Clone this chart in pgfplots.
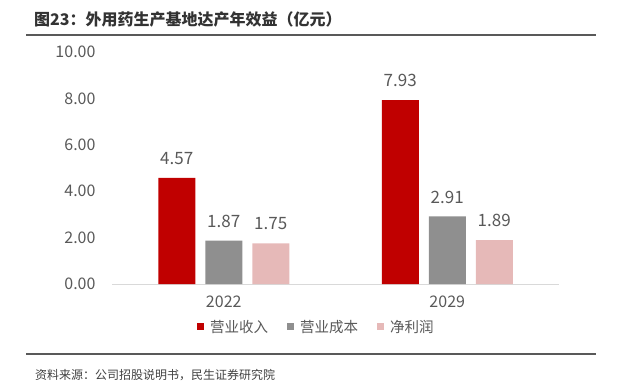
\documentclass[border=0pt]{standalone}
\usepackage{fontspec}
\setmainfont{Noto Sans CJK SC}
\usepackage{pgfplots}
\pgfplotsset{compat=1.18}
\definecolor{cRed}{HTML}{C00000}
\definecolor{cGray}{HTML}{8F8F8F}
\definecolor{cPink}{HTML}{E6B9B8}
\definecolor{cText}{HTML}{595959}
\definecolor{cLine}{HTML}{595959}
\begin{document}
\begin{tikzpicture}
\path[use as bounding box] (0pt,0pt) rectangle (617pt,388pt);
\node[anchor=west,inner sep=0pt,font=\fontsize{16}{18}\selectfont\bfseries,text=black!80] at (34pt,369pt) {图23：外用药生产基地达产年效益（亿元）};
\draw[cLine,line width=1.3pt] (26pt,353pt) -- (596pt,353pt);
\draw[cLine,line width=1.3pt] (26pt,34pt) -- (596pt,34pt);
\node[anchor=west,inner sep=0pt,font=\fontsize{12}{14}\selectfont,text=black!75] at (35pt,13pt) {资料来源：公司招股说明书，民生证券研究院};
\begin{axis}[
  at={(112pt,104pt)}, anchor=south west,
  scale only axis, width=447pt, height=232pt,
  ymin=0, ymax=10, xmin=-0.5, xmax=1.5,
  ybar=10pt, bar width=37pt,
  xtick={0,1}, xticklabels={2022,2029},
  ytick={0,2,4,6,8,10},
  major tick length=0pt,
  axis x line*=bottom, axis y line*=left,
  y axis line style={draw=none},
  x axis line style={draw=black!15, line width=0.8pt},
  /pgf/number format/fixed, /pgf/number format/fixed zerofill,
  /pgf/number format/precision=2, /pgf/number format/assume math mode=true,
  yticklabel style={font=\fontsize{16}{18}\selectfont, text=cText, xshift=-13pt},
  xticklabel style={font=\fontsize{16}{18}\selectfont, text=cText, yshift=-8pt},
  nodes near coords,
  every node near coord/.append style={font=\fontsize{17}{19}\selectfont, text=cText, inner sep=0pt, yshift=13pt},
  legend columns=-1,
  legend style={draw=none, at={(0.455,-0.185)}, anchor=center,
    font=\fontsize{14.5}{16}\selectfont, text=cText,
    nodes={inner sep=0pt}, column sep=6pt,
    /tikz/every even column/.append style={column sep=19pt}},
  legend image code/.code={\fill[#1] (0pt,-3.5pt) rectangle (7pt,3.5pt);},
]
\addplot[fill=cRed, draw=none] coordinates {(0,4.57) (1,7.93)};
\addplot[fill=cGray, draw=none] coordinates {(0,1.87) (1,2.91)};
\addplot[fill=cPink, draw=none] coordinates {(0,1.75) (1,1.89)};
\legend{营业收入,营业成本,净利润}
\end{axis}
\end{tikzpicture}
\end{document}
